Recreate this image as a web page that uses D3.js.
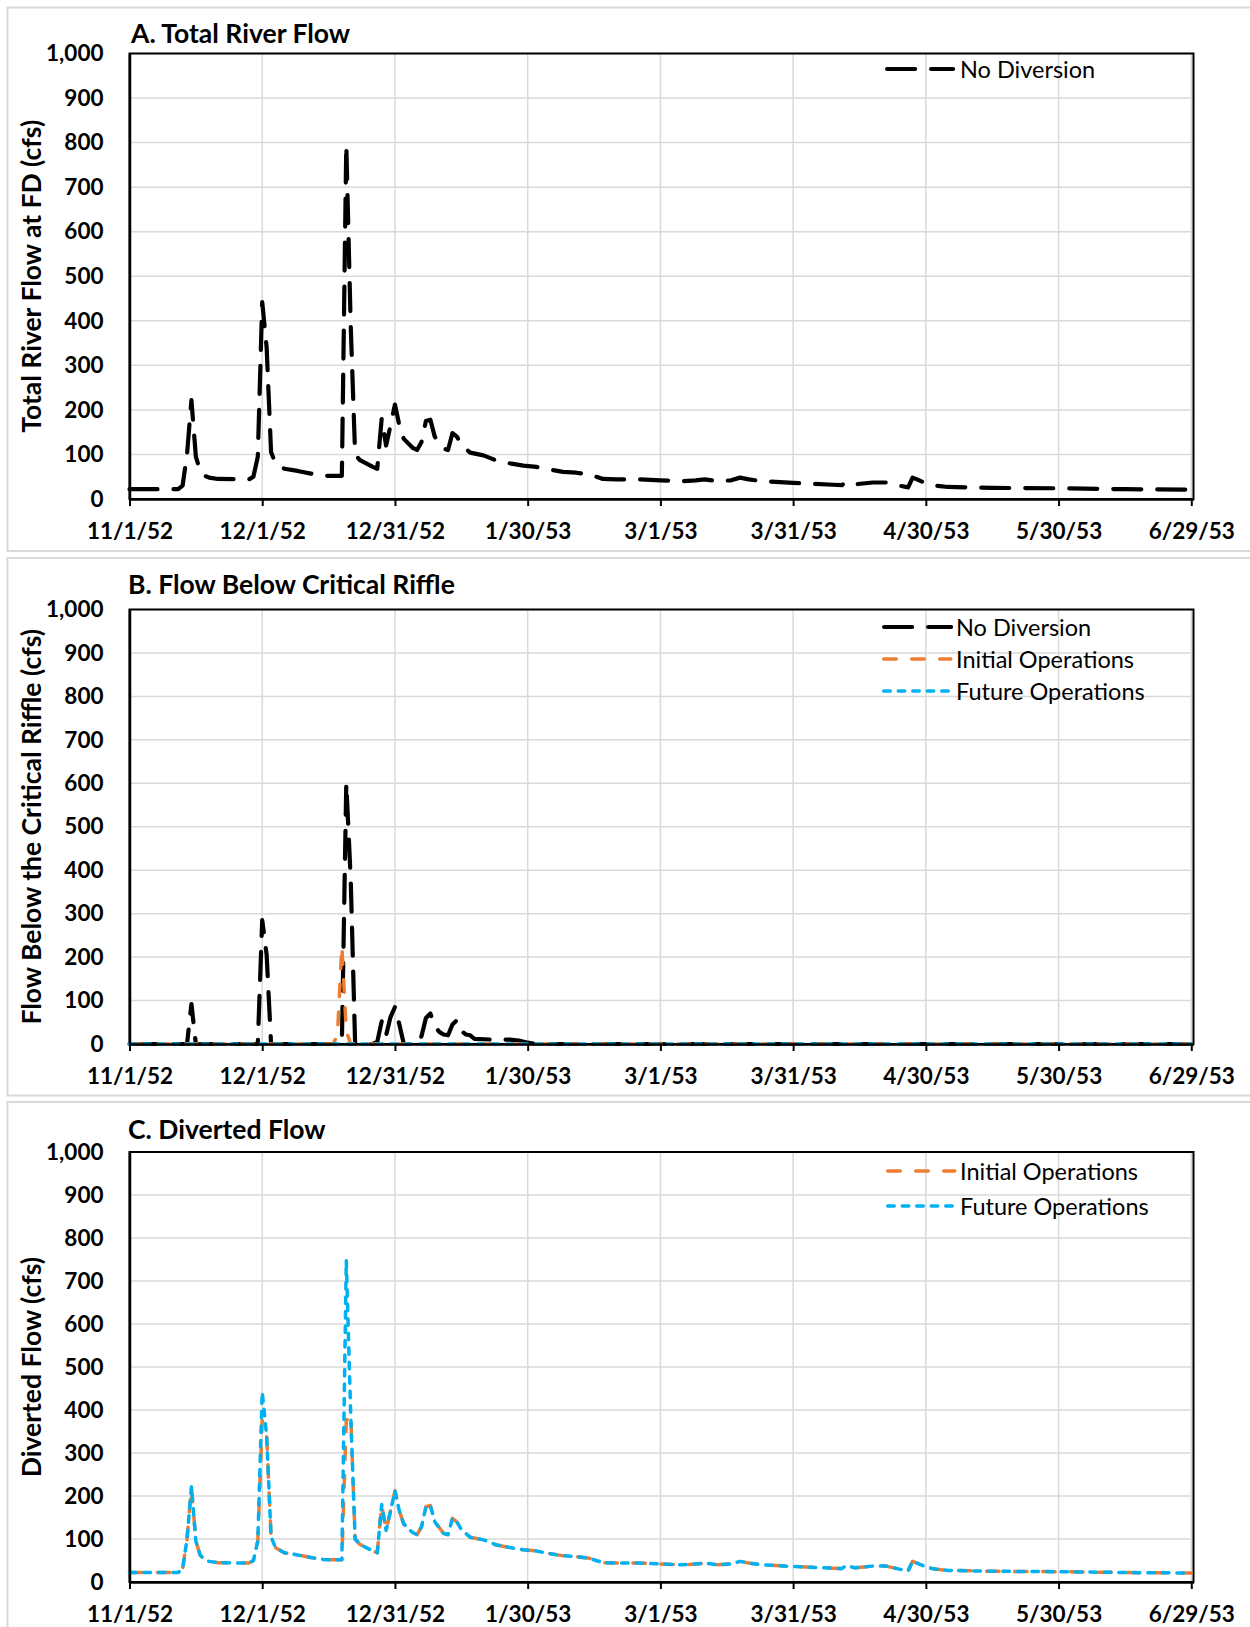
<!DOCTYPE html>
<html><head><meta charset="utf-8">
<script src="https://cdn.jsdelivr.net/npm/d3@7"></script>
<style>
html,body{margin:0;padding:0;background:#fff;}
svg{display:block;font-family:Lato,"Open Sans",sans-serif;}
</style></head>
<body>
<svg id="chart" width="1250" height="1627"></svg>
<script>
// ---------- DATA (day offsets from 11/1/52) ----------
const xTickDays = [0, 30, 60, 90, 120, 150, 180, 210, 240];
const xTickLabels = ["11/1/52", "12/1/52", "12/31/52", "1/30/53", "3/1/53", "3/31/53", "4/30/53", "5/30/53", "6/29/53"];
const yTicks = [0, 100, 200, 300, 400, 500, 600, 700, 800, 900, 1000];

// Panel A and C share these days
const days = [0,11,12,13,14,15,16,17,18,20, 27,28,29,30,31,32,33,35,38,41, 44,48,49,50,51,52,55,56,57,58,
  59,60,61,62,64,65,66,67,68,69, 71,72,73,74,75,77,80,83,86,89, 92,95,98,101,104,107,110,115,120,125,
  128,130,133,136,138,140,143,150,155,159, 161,162,164,168,171,174,176,177,178,180, 182,185,195,210,225,240];

const totalNoDiversion = [22,22,30,100,222,95,62,52,48,45, 44,50,95,442,340,105,80,68,63,57, 52,52,795,390,100,88,72,68,180,120,
  165,212,165,135,115,110,128,175,178,140, 113,110,148,140,122,104,98,86,80,75, 72,66,61,59,55,45,44,44,42,40,
  42,44,40,42,48,44,40,36,34,32, 31,38,33,37,37,30,26,48,44,35, 30,27,25,24,22,21];

const divertedInitial = [22,22,30,100,222,95,62,52,48,45, 44,50,95,375,340,105,80,68,63,57, 52,52,375,390,100,88,72,68,180,120,
  165,212,165,135,115,110,128,175,178,140, 113,110,148,140,122,104,98,86,80,75, 72,66,61,59,55,45,44,44,42,40,
  42,44,40,42,48,44,40,36,34,32, 31,38,33,37,37,30,26,48,44,35, 30,27,25,24,22,21];

const divertedFuture = [22,22,30,100,222,95,62,52,48,45, 44,50,95,442,340,105,80,68,63,57, 52,52,748,390,100,88,72,68,180,120,
  165,212,165,135,115,110,128,175,178,140, 113,110,148,140,122,104,98,86,80,75, 72,66,61,59,55,45,44,44,42,40,
  42,44,40,42,48,44,40,36,34,32, 31,38,33,37,37,30,26,48,44,35, 30,27,25,24,22,21];

// Panel B
const daysBNoDiv = [0,13,14,15, 29,30,31,32, 46,47,48,49,50,51, 55,56,57,58,59,60,61,62,
  65,66,67,68,69,70,71,72,73,74,75,76,77,78, 82,86,88,90,92,240];
const belowNoDiversion = [0,0,92,0, 0,285,205,0, 0,0,0,600,380,0, 0,5,52,20,62,85,45,0,
  0,18,60,70,42,28,22,20,45,55,30,22,20,12, 10,10,8,3,0,0];
const daysBInitial = [0,46,47,48,49,50,240];
const belowInitial = [0,0,20,225,30,0,0];
const daysBFuture = [0,240];
const belowFuture = [0,0];

// ---------- STYLE ----------
const S = {
  noDiv: {color:"#000000", width:4.2, dash:"28,16"},
  init:  {color:"#ED7D31", width:3.5, dash:"12.5,15.5"},
  fut:   {color:"#00B0F0", width:3.5, dash:"6.5,8"}
};
const TICK_FS = 22.5, TITLE_FS = 26.5, YTITLE_FS = 26.5, LEG_FS = 23.5;

const svg = d3.select("#chart");
const L = 129.5, R = 1193.5;
const x = d3.scaleLinear().domain([0, 240.5]).range([L, R]);

// panel frames
[[7.5, 7.5, 551], [7.5, 558, 1095.5], [7.5, 1102, 1640]].forEach(([fx, fy, fb]) => {
  svg.append("rect").attr("x", fx).attr("y", fy).attr("width", 1260).attr("height", fb - fy)
    .attr("fill", "none").attr("stroke", "#d9d9d9").attr("stroke-width", 2);
});

function panel(cfg) {
  const y = d3.scaleLinear().domain([0, 1000]).range([cfg.bottom, cfg.top]);
  const g = svg.append("g");
  // gridlines
  g.selectAll(".hg").data(yTicks.slice(1)).join("line")
    .attr("x1", L).attr("x2", R).attr("y1", d => y(d)).attr("y2", d => y(d))
    .attr("stroke", "#d9d9d9").attr("stroke-width", 1.5);
  g.selectAll(".vg").data(xTickDays.slice(1)).join("line")
    .attr("x1", d => x(d)).attr("x2", d => x(d)).attr("y1", cfg.top).attr("y2", cfg.bottom)
    .attr("stroke", "#d9d9d9").attr("stroke-width", 1.5);
  // plot border
  g.append("rect").attr("x", L).attr("y", cfg.top).attr("width", R - L).attr("height", cfg.bottom - cfg.top)
    .attr("fill", "none").attr("stroke", "#000").attr("stroke-width", 2);

  // series
  const line = d3.line().x(d => x(d[0])).y(d => y(d[1]));
  cfg.series.forEach(s => {
    const pts = s.days.map((d, i) => [d, s.values[i]]);
    g.append("path").datum(pts).attr("d", line)
      .attr("fill", "none").attr("stroke", s.style.color).attr("stroke-width", s.style.width)
      .attr("stroke-dasharray", s.style.dash).attr("stroke-linecap", "round").attr("stroke-linejoin", "round");
  });

  // axes
  const xa = g.append("g").attr("transform", `translate(0,${cfg.bottom})`)
    .call(d3.axisBottom(x).tickValues(xTickDays).tickFormat((d, i) => xTickLabels[i]).tickSizeInner(7).tickSizeOuter(0).tickPadding(17));
  xa.select(".domain").attr("stroke", "#000").attr("stroke-width", 2.5);
  xa.selectAll(".tick line").attr("stroke", "#000").attr("stroke-width", 2);
  xa.selectAll("text").attr("font-family", "Lato").attr("font-weight", "bold").attr("font-size", TICK_FS).attr("fill", "#000");

  const ya = g.append("g").attr("transform", `translate(${L},0)`)
    .call(d3.axisLeft(y).tickValues(yTicks).tickFormat(d3.format(",")).tickSize(0).tickPadding(26));
  ya.select(".domain").attr("stroke", "#000").attr("stroke-width", 2.5);
  ya.selectAll("text").attr("font-family", "Lato").attr("font-weight", "bold").attr("font-size", TICK_FS).attr("fill", "#000");

  // title
  g.append("text").attr("x", cfg.titleX).attr("y", cfg.titleY).text(cfg.title)
    .attr("font-weight", "bold").attr("font-size", TITLE_FS).attr("fill", "#000");
  // y axis title
  g.append("text").attr("transform", `translate(31,${(cfg.top + cfg.bottom) / 2}) rotate(-90)`)
    .attr("text-anchor", "middle").attr("dominant-baseline", "central")
    .text(cfg.yTitle).attr("font-weight", "bold").attr("font-size", YTITLE_FS).attr("fill", "#000");

  // legend
  cfg.legend.forEach((e, i) => {
    const ly = cfg.legY[i];
    g.append("line").attr("x1", cfg.legX1).attr("x2", cfg.legX2).attr("y1", ly).attr("y2", ly)
      .attr("stroke", e.style.color).attr("stroke-width", e.style.width)
      .attr("stroke-dasharray", e.style.dash).attr("stroke-linecap", "round")
      .attr("transform", `translate(${e.style.width / 2},0)`);
    g.append("text").attr("x", cfg.legTX).attr("y", ly).attr("dominant-baseline", "central")
      .text(e.label).attr("font-size", LEG_FS).attr("fill", "#000");
  });
}

panel({
  top: 53.5, bottom: 499, title: "A. Total River Flow", titleX: 131, titleY: 43,
  yTitle: "Total River Flow at FD (cfs)",
  series: [{days: days, values: totalNoDiversion, style: S.noDiv}],
  legend: [{label: "No Diversion", style: S.noDiv}],
  legX1: 885, legX2: 951, legTX: 960, legY: [69]
});

panel({
  top: 609.5, bottom: 1044, title: "B. Flow Below Critical Riffle", titleX: 128, titleY: 594,
  yTitle: "Flow Below the Critical Riffle (cfs)",
  series: [
    {days: daysBNoDiv, values: belowNoDiversion, style: S.noDiv},
    {days: daysBInitial, values: belowInitial, style: S.init},
    {days: daysBFuture, values: belowFuture, style: S.fut}
  ],
  legend: [
    {label: "No Diversion", style: S.noDiv},
    {label: "Initial Operations", style: S.init},
    {label: "Future Operations", style: S.fut}
  ],
  legX1: 882, legX2: 949, legTX: 956, legY: [627, 659, 691]
});

panel({
  top: 1152, bottom: 1582, title: "C. Diverted Flow", titleX: 128, titleY: 1139,
  yTitle: "Diverted Flow (cfs)",
  series: [
    {days: days, values: divertedInitial, style: S.init},
    {days: days, values: divertedFuture, style: S.fut}
  ],
  legend: [
    {label: "Initial Operations", style: S.init},
    {label: "Future Operations", style: S.fut}
  ],
  legX1: 886, legX2: 953, legTX: 960, legY: [1171, 1206]
});
</script>
</body></html>
